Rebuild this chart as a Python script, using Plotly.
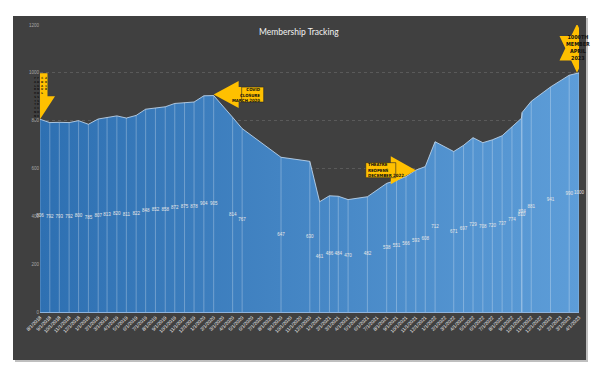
import math
import plotly.graph_objects as go

# ---------------- data ----------------
dates = ["2018-08-01", "2018-09-01", "2018-10-01", "2018-11-01", "2018-12-01",
         "2019-01-01", "2019-02-01", "2019-03-01", "2019-04-01", "2019-05-01",
         "2019-06-01", "2019-07-01", "2019-08-01", "2019-09-01", "2019-10-01",
         "2019-11-01", "2019-12-01", "2020-01-01", "2020-02-01", "2020-04-01",
         "2020-05-01", "2020-09-01", "2020-12-01", "2021-01-01", "2021-02-01",
         "2021-03-01", "2021-04-01", "2021-06-01", "2021-08-01", "2021-09-01",
         "2021-10-01", "2021-11-01", "2021-12-01", "2022-01-01", "2022-03-01",
         "2022-04-01", "2022-05-01", "2022-06-01", "2022-07-01", "2022-08-01",
         "2022-09-01", "2022-10-01", "2022-10-03", "2022-11-01", "2023-01-01",
         "2023-03-01", "2023-04-01"]
members = [806, 792, 793, 792, 800, 785, 807, 813, 820, 811, 822, 848, 852, 858,
           872, 875, 878, 904, 905, 814, 767, 647, 630, 461, 486, 484, 470, 482,
           538, 551, 566, 593, 608, 712, 671, 697, 729, 708, 720, 737, 774, 810,
           834, 881, 941, 990, 1000]

title_text = "Membership Tracking"
start_cols = ["FALBHSTTCNNS", "FDGNDSSRCOE", "CDAUL", "2018"]
covid_text = "COVID<br>CLOSURE<br>MARCH 2020"
reopen_text = "THEATRE<br>REOPENS<br>DECEMBER 2022"
star_text = "1000TH<br>MEMBER<br>APRIL<br>2023"

covid_idx = dates.index("2020-02-01")
reopen_idx = dates.index("2021-11-01")
start_idx = 0
end_idx = len(dates) - 1

# ---------------- layout constants (pixels) ----------------
W, H = 600, 378
L, R, T, B = 40, 21, 25, 66
PW, PH = W - L - R, H - T - B
DARK = "#404040"
YELLOW = "#FFC000"


def px2paper_x(px):
    return (px - L) / PW


def px2paper_y(py):
    return (H - B - py) / PH


fig = go.Figure()

# filled area with gradient
fig.add_trace(go.Scatter(
    x=dates, y=members, mode="lines", fill="tozeroy",
    line=dict(color="rgba(190,215,240,0.85)", width=1),
    fillgradient=dict(type="horizontal",
                      colorscale=[[0, "#2E70B2"], [1, "#5D9DD8"]]),
    hoverinfo="x+y", showlegend=False))

# vertical drop lines at each data point
vx, vy = [], []
for d, v in zip(dates, members):
    vx += [d, d, None]
    vy += [0, v, None]
fig.add_trace(go.Scatter(x=vx, y=vy, mode="lines",
                         line=dict(color="rgba(255,255,255,0.28)", width=1),
                         hoverinfo="skip", showlegend=False))

# data labels at half height
fig.add_trace(go.Scatter(
    x=dates, y=[v / 2 for v in members], mode="text",
    text=[str(v) for v in members], textposition="middle center",
    textfont=dict(size=4.5, color="#E6E6E6", family="Liberation Sans"),
    cliponaxis=False, hoverinfo="skip", showlegend=False))

shapes = []
# shadow + dark chart background
shapes.append(dict(type="rect", xref="paper", yref="paper", layer="below",
                   x0=px2paper_x(15), x1=px2paper_x(588),
                   y0=px2paper_y(362), y1=px2paper_y(18),
                   fillcolor="#BFBFBF", line=dict(width=0)))
shapes.append(dict(type="rect", xref="paper", yref="paper", layer="below",
                   x0=px2paper_x(13), x1=px2paper_x(586),
                   y0=px2paper_y(360), y1=px2paper_y(16),
                   fillcolor=DARK, line=dict(width=0)))


def pix_path(idx, pts):
    d = "M" + " L".join(f"{x:.2f},{y:.2f}" for x, y in pts) + " Z"
    return dict(type="path", xref="x", yref="y", xsizemode="pixel",
                ysizemode="pixel", xanchor=dates[idx], yanchor=members[idx],
                path=d, fillcolor=YELLOW, line=dict(width=0), layer="above")


# down arrow at first point
shapes.append(pix_path(start_idx, [(0, 0), (-15, 23), (-7.5, 23), (-7.5, 46),
                                    (7.5, 46), (7.5, 23), (15, 23)]))
# left arrow at covid peak
shapes.append(pix_path(covid_idx, [(0, 1), (25, 14.5), (25, 8.5), (50, 8.5),
                                    (50, -6.5), (25, -6.5), (25, -12.5)]))
shapes.append(dict(type="rect", xref="x", yref="y", xsizemode="pixel",
                   ysizemode="pixel", xanchor=dates[covid_idx],
                   yanchor=members[covid_idx], x0=28, x1=50, y0=-6.5, y1=8.5,
                   fillcolor="rgba(0,0,0,0)", line=dict(color="#262626", width=0.6),
                   layer="above"))
# right arrow at reopening
shapes.append(pix_path(reopen_idx, [(0, 0), (-25, 14), (-25, 7.5), (-50, 7.5),
                                     (-50, -7.5), (-25, -7.5), (-25, -14)]))
shapes.append(dict(type="rect", xref="x", yref="y", xsizemode="pixel",
                   ysizemode="pixel", xanchor=dates[reopen_idx],
                   yanchor=members[reopen_idx], x0=-50, x1=-20, y0=-7.5, y1=7.5,
                   fillcolor="rgba(0,0,0,0)", line=dict(color="#262626", width=0.6),
                   layer="above"))
# six-pointed star at the 1000th member
cx, cy, Ry, Rx = -2, 24.5, 24.5, 20.2
star = []
for k in range(12):
    ang = math.radians(90 - 30 * k)
    f = 1.0 if k % 2 == 0 else 0.577
    star.append((cx + Rx * f * math.cos(ang), cy + Ry * f * math.sin(ang)))
shapes.append(pix_path(end_idx, star))

annotations = []
# title
annotations.append(dict(xref="paper", yref="paper", x=px2paper_x(299),
                        y=px2paper_y(25), text=title_text, showarrow=False,
                        font=dict(size=8.5, color="#F2F2F2", family="Lato"),
                        bgcolor=DARK, borderpad=1))


def callout(idx, text, xs, ys, size, xanchor="center", align="center", family="DejaVu Sans Condensed"):
    annotations.append(dict(xref="x", yref="y", x=dates[idx], y=members[idx],
                            xshift=xs, yshift=ys, text="<b>" + text + "</b>",
                            showarrow=False, xanchor=xanchor, yanchor="middle",
                            align=align,
                            font=dict(size=size, color="#111111", family=family)))


callout(covid_idx, covid_text, 49.5, 1, 4.3, xanchor="right", align="right")
callout(reopen_idx, reopen_text, -49.5, 0, 4.3, xanchor="left", align="left")
callout(end_idx, star_text, -1, 25, 5.4)

# stacked text in the down arrow
for j, col in enumerate(start_cols):
    annotations.append(dict(xref="x", yref="y", x=dates[start_idx], y=members[start_idx],
                            xshift=-5.4 + 3.7 * j, yshift=45, yanchor="top",
                            text="<b>" + "<br>".join(col) + "</b>", showarrow=False,
                            font=dict(size=2.9, color="#111111", family="DejaVu Sans Condensed")))

fig.update_layout(
    width=W, height=H,
    margin=dict(l=L, r=R, t=T, b=B),
    paper_bgcolor="white", plot_bgcolor=DARK,
    shapes=shapes, annotations=annotations,
    xaxis=dict(type="date", range=[dates[0], dates[-1]], tick0=dates[0],
               dtick="M1", tickformat="%-m/%-d/%Y", tickangle=-45,
               tickfont=dict(size=4.8, color="#EDEDED", family="Liberation Sans"),
               showgrid=False, zeroline=False, showline=True,
               linecolor="#8FB4DE", linewidth=1),
    yaxis=dict(range=[0, 1200], dtick=200, tickfont=dict(size=4.5, color="#A6A6A6",
               family="Liberation Sans"), gridcolor="#5A5A5A", griddash="dot",
               gridwidth=1, zeroline=False, showline=False),
)

fig.write_html("out.html", config={"displayModeBar": False},
               post_script="document.body.style.margin='0';document.body.style.padding='0';")
